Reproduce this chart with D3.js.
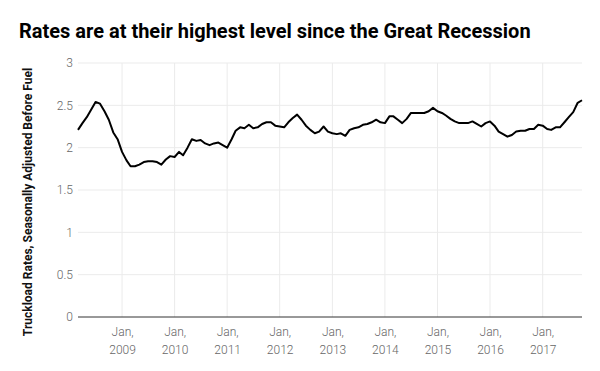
<!DOCTYPE html>
<html>
<head>
<meta charset="utf-8">
<script src="https://cdn.jsdelivr.net/npm/d3@7"></script>
<style>
	body { margin: 0; background: #fff; }
	svg { display: block; }
	.title { font-family: Roboto, sans-serif; font-weight: 700; font-size: 20px; fill: #000; }
	.ylabel { font-family: "Liberation Sans Narrow", Roboto, sans-serif; font-weight: 700; font-size: 12px; fill: #111; }
	.tick text { font-family: Roboto, sans-serif; font-weight: 300; font-size: 12px; fill: #666; }
</style>
</head>
<body>
<script>

// monthly values, starting March 2008
var firstMonth = new Date(2008, 2, 1);
var rates = [
	2.21, 2.29, 2.36, 2.45, 2.54, 2.52, 2.43, 2.33, 2.18, 2.10,
	1.95, 1.85, 1.78, 1.78, 1.80, 1.83, 1.84, 1.84, 1.83, 1.80,
	1.86, 1.90, 1.89, 1.95, 1.91, 2.00, 2.10, 2.08, 2.09, 2.05,
	2.03, 2.05, 2.06, 2.03, 2.00, 2.10, 2.20, 2.24, 2.23, 2.27,
	2.23, 2.24, 2.28, 2.30, 2.30, 2.26, 2.25, 2.24, 2.30, 2.35,
	2.39, 2.33, 2.26, 2.21, 2.17, 2.19, 2.25, 2.19, 2.17, 2.16,
	2.17, 2.14, 2.21, 2.23, 2.24, 2.27, 2.28, 2.30, 2.33, 2.30,
	2.29, 2.37, 2.37, 2.33, 2.29, 2.34, 2.41, 2.41, 2.41, 2.41,
	2.43, 2.47, 2.43, 2.41, 2.38, 2.34, 2.31, 2.29, 2.29, 2.29,
	2.31, 2.28, 2.25, 2.29, 2.31, 2.26, 2.19, 2.16, 2.13, 2.15,
	2.19, 2.20, 2.20, 2.22, 2.22, 2.27, 2.26, 2.22, 2.21, 2.24,
	2.24, 2.30, 2.36, 2.42, 2.53, 2.56
];

var yTicks = [0, 0.5, 1, 1.5, 2, 2.5, 3];
var xTickYears = [2009, 2010, 2011, 2012, 2013, 2014, 2015, 2016, 2017];

var titleText = 'Rates are at their highest level since the Great Recession';
var yLabelText = 'Truckload Rates, Seasonally Adjusted Before Fuel';

var data = rates.map(function(v, i) {
	return { date: d3.timeMonth.offset(firstMonth, i), value: v };
});

var width = 600,
	height = 371;

var margin = {
	'left': 78,
	'right': 18,
	'top': 63,
	'bottom': 54
};

var svg = d3.select('body').append('svg')
	.attr('width', width)
	.attr('height', height);

var x = d3.scaleTime()
	.domain(d3.extent(data, function(d) { return d.date; }))
	.range([margin.left, width - margin.right]);

var y = d3.scaleLinear()
	.domain([0, 3])
	.range([height - margin.bottom, margin.top]);

var xTicks = xTickYears.map(function(yr) { return new Date(yr, 0, 1); });

// gridlines
svg.append('g')
	.selectAll('line')
	.data(yTicks.filter(function(t) { return t > 0; })).enter()
	.append('line')
	.attr('x1', margin.left)
	.attr('x2', width - margin.right)
	.attr('y1', function(d) { return y(d); })
	.attr('y2', function(d) { return y(d); })
	.attr('stroke', '#ebebeb')
	.attr('stroke-width', 1);

svg.append('g')
	.selectAll('line')
	.data(xTicks).enter()
	.append('line')
	.attr('x1', function(d) { return x(d); })
	.attr('x2', function(d) { return x(d); })
	.attr('y1', margin.top)
	.attr('y2', height - margin.bottom)
	.attr('stroke', '#ebebeb')
	.attr('stroke-width', 1);

// y axis labels
var yAxis = svg.append('g')
	.attr('transform', 'translate(' + (margin.left - 5) + ',0)')
	.call(d3.axisLeft(y).tickValues(yTicks).tickSize(0).tickPadding(0).tickFormat(d3.format('')));
yAxis.select('.domain').remove();

// x axis labels, two lines each
var xAxis = svg.append('g')
	.attr('transform', 'translate(0,' + (height - margin.bottom) + ')')
	.call(d3.axisBottom(x).tickValues(xTicks).tickSize(0).tickPadding(0).tickFormat(''));
xAxis.select('.domain').remove();

xAxis.selectAll('.tick text')
	.each(function(d) {
		var t = d3.select(this);
		t.attr('y', 0).attr('dy', null);
		t.append('tspan').attr('x', 0).attr('y', 19).text(d3.timeFormat('%b,')(d));
		t.append('tspan').attr('x', 0).attr('y', 37).text(d3.timeFormat('%Y')(d));
	});

// zero baseline
svg.append('line')
	.attr('x1', margin.left)
	.attr('x2', width - margin.right)
	.attr('y1', y(0))
	.attr('y2', y(0))
	.attr('stroke', '#333')
	.attr('stroke-width', 1);

// the line
var line = d3.line()
	.x(function(d) { return x(d.date); })
	.y(function(d) { return y(d.value); });

svg.append('path')
	.datum(data)
	.attr('fill', 'none')
	.attr('stroke', '#000')
	.attr('stroke-width', 2)
	.attr('stroke-linejoin', 'round')
	.attr('d', line);

// title
svg.append('text')
	.attr('class', 'title')
	.attr('x', 19)
	.attr('y', 38)
	.text(titleText);

// y label
svg.append('text')
	.attr('class', 'ylabel')
	.attr('transform', 'translate(32,' + ((margin.top + height - margin.bottom) / 2 + 12) + ') rotate(-90)')
	.attr('text-anchor', 'middle')
	.text(yLabelText);

</script>
</body>
</html>
